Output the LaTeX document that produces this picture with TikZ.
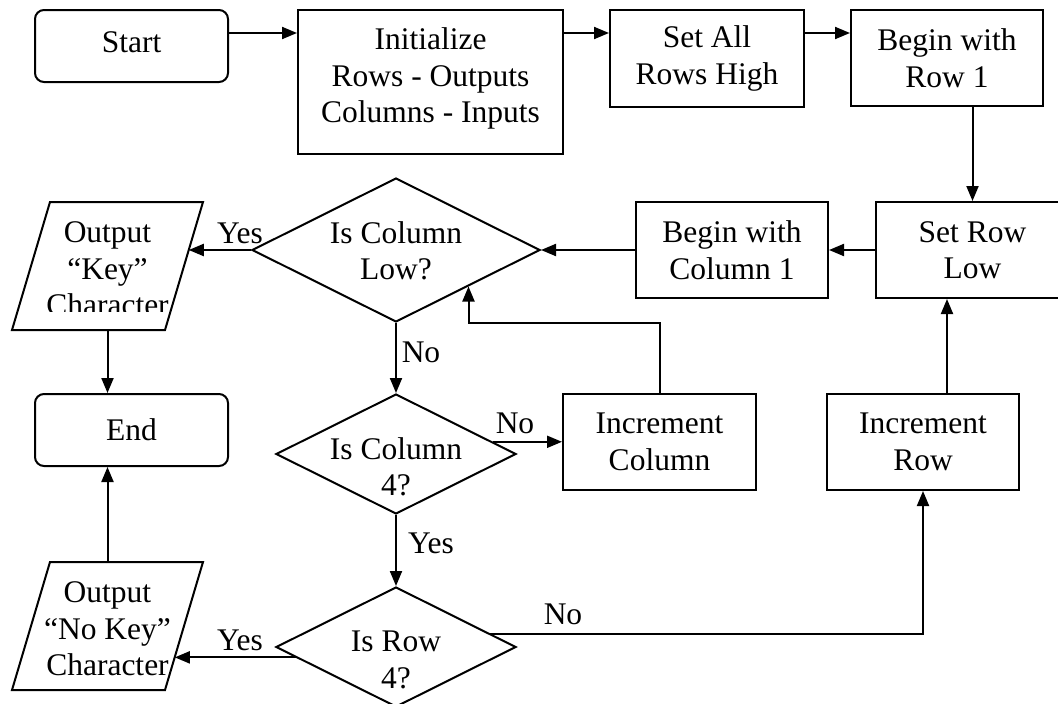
\documentclass[tikz,border=0pt]{standalone}
\usepackage{fontspec}
\setmainfont{Liberation Serif}
\usetikzlibrary{arrows.meta,shapes.geometric,calc}
\begin{document}
\begin{tikzpicture}[x=1pt,y=-1pt,
  every node/.style={font=\fontsize{31.5}{36.5}\selectfont, align=center, inner sep=0pt},
  box/.style={draw, line width=2pt, rectangle},
  rbox/.style={box, rounded corners=9pt},
  dia/.style={draw, line width=2pt, diamond},
  shapeline/.style={draw, line width=2pt, line join=miter},
  conn/.style={line width=2pt, -{Triangle[length=15pt,width=12pt]}}
]
\useasboundingbox (0,0) rectangle (1058,704);
\clip (0,0) rectangle (1058,704);

% boxes
\node[rbox, minimum width=193pt, minimum height=72pt, text depth=8pt] (start) at (131.5,46) {Start};
\node[box, minimum width=265pt, minimum height=144pt, text depth=13pt] (init) at (430.5,82) {Initialize\\Rows - Outputs\\Columns - Inputs};
\node[box, minimum width=194pt, minimum height=97pt] (setall) at (707,58.5) {Set All\\Rows High};
\node[box, minimum width=192pt, minimum height=96pt] (begrow) at (947,58) {Begin with\\Row 1};
\node[box, minimum width=193pt, minimum height=96pt] (setrow) at (972.5,250) {Set Row\\Low};
\node[box, minimum width=192pt, minimum height=96pt] (begcol) at (732,250) {Begin with\\Column 1};
\node[box, minimum width=193pt, minimum height=96pt] (inccol) at (659.5,442) {Increment\\Column};
\node[box, minimum width=192pt, minimum height=96pt] (incrow) at (923,442) {Increment\\Row};
\node[rbox, minimum width=193pt, minimum height=72pt] (end) at (131.5,430) {End};

% decisions
\node[dia, minimum width=288pt, minimum height=144pt] (d1) at (396,250) {};
\node (d1t) at (396,251) {Is Column\\Low?};
\node[dia, minimum width=240pt, minimum height=120pt] (d2) at (396,454) {};
\node (d2t) at (396,467) {Is Column\\4?};
\node[dia, minimum width=240pt, minimum height=120pt] (d3) at (396,647) {};
\node (d3t) at (396,660) {Is Row\\4?};

% output parallelograms
\coordinate (p1tl) at (50,202);  \coordinate (p1tr) at (203,202);
\coordinate (p1br) at (165,330); \coordinate (p1bl) at (12,330);
\coordinate (p1c) at (107.5,266);
\draw[shapeline] (p1tl) -- (p1tr) -- (p1br) -- (p1bl) -- cycle;
\begin{scope}
  \clip (0,0) rectangle (1058,311);
  \node (p1t) at (107.5,269) {Output\\“Key”\\Character};
\end{scope}
\coordinate (p2tl) at (50,562);  \coordinate (p2tr) at (203,562);
\coordinate (p2br) at (165,690); \coordinate (p2bl) at (12,690);
\coordinate (p2c) at (107.5,626);
\draw[shapeline] (p2tl) -- (p2tr) -- (p2br) -- (p2bl) -- cycle;
\node (p2t) at (107.5,629) {Output\\“No Key”\\Character};

% labels
\node (l1) at (240,233) {Yes};
\node (l2) at (421,352) {No};
\node (l3) at (515,423) {No};
\node (l4) at (431,543) {Yes};
\node (l5) at (563,614) {No};
\node (l6) at (240,640) {Yes};

% connectors
\coordinate (ytop) at (0,33);
\draw[conn] (start.east |- ytop) -- (init.west |- ytop);
\draw[conn] (init.east |- ytop) -- (setall.west |- ytop);
\draw[conn] (setall.east |- ytop) -- (begrow.west |- ytop);
\draw[conn] (setrow.north |- begrow.south) -- (setrow.north);
\draw[conn] (setrow.west) -- (begcol.east);
\draw[conn] (begcol.west) -- (d1.east);
\coordinate (p1in) at ($(p1tr)!0.375!(p1br)$);
\draw[conn] (d1.west) -- (d1.west -| p1in);
\draw[conn] (p1c |- p1bl) -- (p1c |- end.north);
\draw[conn] (d1.south) -- (d2.north);
\coordinate (d2no) at ($(d2.north)!0.8!(d2.east)$);
\draw[conn] (d2no) -- (d2no -| inccol.west);
\coordinate (fb) at ($(d1.south)!0.5!(d1.east)$);
\draw[conn] (inccol.north) -- (inccol.north |- d1.south) -| (fb);
\draw[conn] (d2.south) -- (d3.north);
\coordinate (d3no) at ($(d3.north)!0.78!(d3.east)$);
\draw[conn] (d3no) -| (incrow.south);
\coordinate (d3yes) at ($(d3.west)!0.17!(d3.south)$);
\coordinate (p2in) at ($(p2tr)!0.742!(p2br)$);
\draw[conn] (d3yes) -- (d3yes -| p2in);
\draw[conn] (begrow.center |- incrow.north) -- (begrow.center |- setrow.south);
\draw[conn] (p2c |- p2tl) -- (p2c |- end.south);
\end{tikzpicture}
\end{document}
